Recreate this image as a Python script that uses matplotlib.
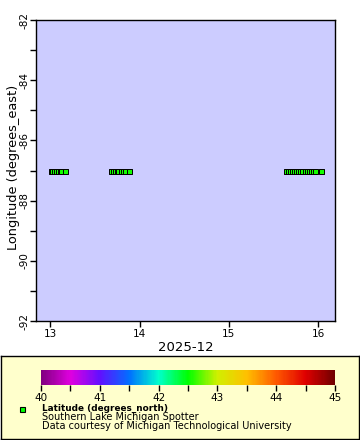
import matplotlib
matplotlib.use("Agg")
import matplotlib.pyplot as plt
from matplotlib.colors import LinearSegmentedColormap, Normalize
from matplotlib.patches import Rectangle
import matplotlib.cm as cm

# ---- data (day of 2025-12, longitude, latitude) ----
time_days = [13.01, 13.03, 13.05, 13.07, 13.09, 13.11, 13.13, 13.17,
             13.69, 13.71, 13.73, 13.75, 13.77, 13.80, 13.82, 13.84, 13.89,
             15.65, 15.67, 15.69, 15.71, 15.74, 15.76, 15.78, 15.80, 15.83,
             15.86, 15.88, 15.90, 15.93, 15.95, 15.97, 16.04]
longitude = [-87.02] * len(time_days)
latitude = [42.55] * len(time_days)

x_ticks = [13, 14, 15, 16]
y_ticks = [-82, -84, -86, -88, -90, -92]
cbar_ticks = [40, 41, 42, 43, 44, 45]

rainbow_colors = ["#800080", "#e000e0", "#6010ff", "#0070ff", "#00ffcc",
                  "#00ff00", "#d0f000", "#ffc000", "#ff5a00", "#e00000", "#700000"]

W, H = 360, 440
fig = plt.figure(figsize=(W / 100, H / 100), dpi=100)
fig.patch.set_facecolor("white")

def px_axes(x0, y0, x1, y1, **kw):
    return fig.add_axes([x0 / W, 1 - y1 / H, (x1 - x0) / W, (y1 - y0) / H], **kw)

cmap = LinearSegmentedColormap.from_list("erd_rainbow", rainbow_colors)
norm = Normalize(vmin=40, vmax=45)

# legend box as background axes
lax = px_axes(1, 356, 359, 439)
lax.set_facecolor("#ffffcc")
lax.set_xticks([])
lax.set_yticks([])
for s in lax.spines.values():
    s.set_linewidth(1)
lax.set_zorder(0)

ax = px_axes(36, 20, 335, 321)
ax.set_facecolor("#ccccff")
ax.scatter(time_days, longitude, c=latitude, cmap=cmap, norm=norm, marker="s",
           s=14, edgecolors="black", linewidths=0.7, zorder=3)
ax.set_xlim(12.84, 16.19)
ax.set_ylim(-92, -82)
ax.set_xticks(x_ticks)
ax.set_xticklabels([str(t) for t in x_ticks], fontsize=7.5)
ax.set_yticks(y_ticks)
ax.set_yticks([-83, -85, -87, -89, -91], minor=True)
ax.set_yticklabels([str(t) for t in y_ticks], fontsize=7.5, rotation=90, va="center")
ax.tick_params(direction="out", length=4, width=1, pad=2)
ax.tick_params(axis="y", pad=0.5)
ax.tick_params(which="minor", direction="out", length=4, width=1)
for s in ax.spines.values():
    s.set_linewidth(1)
ax.set_xlabel("2025-12", fontsize=9.5, labelpad=1)
ax.set_ylabel("Longitude (degrees_east)", fontsize=9.3)
ax.yaxis.set_label_coords(-0.054, 0.51)

cax = px_axes(41, 370, 335, 385)
cax.set_zorder(2)
sm = cm.ScalarMappable(norm=norm, cmap=cmap)
cb = fig.colorbar(sm, cax=cax, orientation="horizontal")
cb.outline.set_visible(False)
cb.set_ticks(cbar_ticks)
cb.ax.set_xticks([40.5, 41.5, 42.5, 43.5, 44.5], minor=True)
cb.ax.set_xticklabels([str(t) for t in cbar_ticks], fontsize=7.5)
cb.ax.tick_params(direction="out", length=4, width=1, pad=2)
cb.ax.tick_params(which="minor", direction="out", length=4, width=1)

lax.add_patch(Rectangle((19.5 - 1, 439 - 411.5), 5, 5, transform=lax.transData,
                        facecolor="#00ff00", edgecolor="black", linewidth=0.8))
lax.set_xlim(0, 358)
lax.set_ylim(0, 83)
fig.text(42 / W, 1 - 408 / H, "Latitude (degrees_north)", fontsize=6.4, fontweight="bold", va="center")
fig.text(42 / W, 1 - 417 / H, "Southern Lake Michigan Spotter", fontsize=7, va="center")
fig.text(42 / W, 1 - 426 / H, "Data courtesy of Michigan Technological University", fontsize=7, va="center")

fig.savefig("out.png", dpi=100)
